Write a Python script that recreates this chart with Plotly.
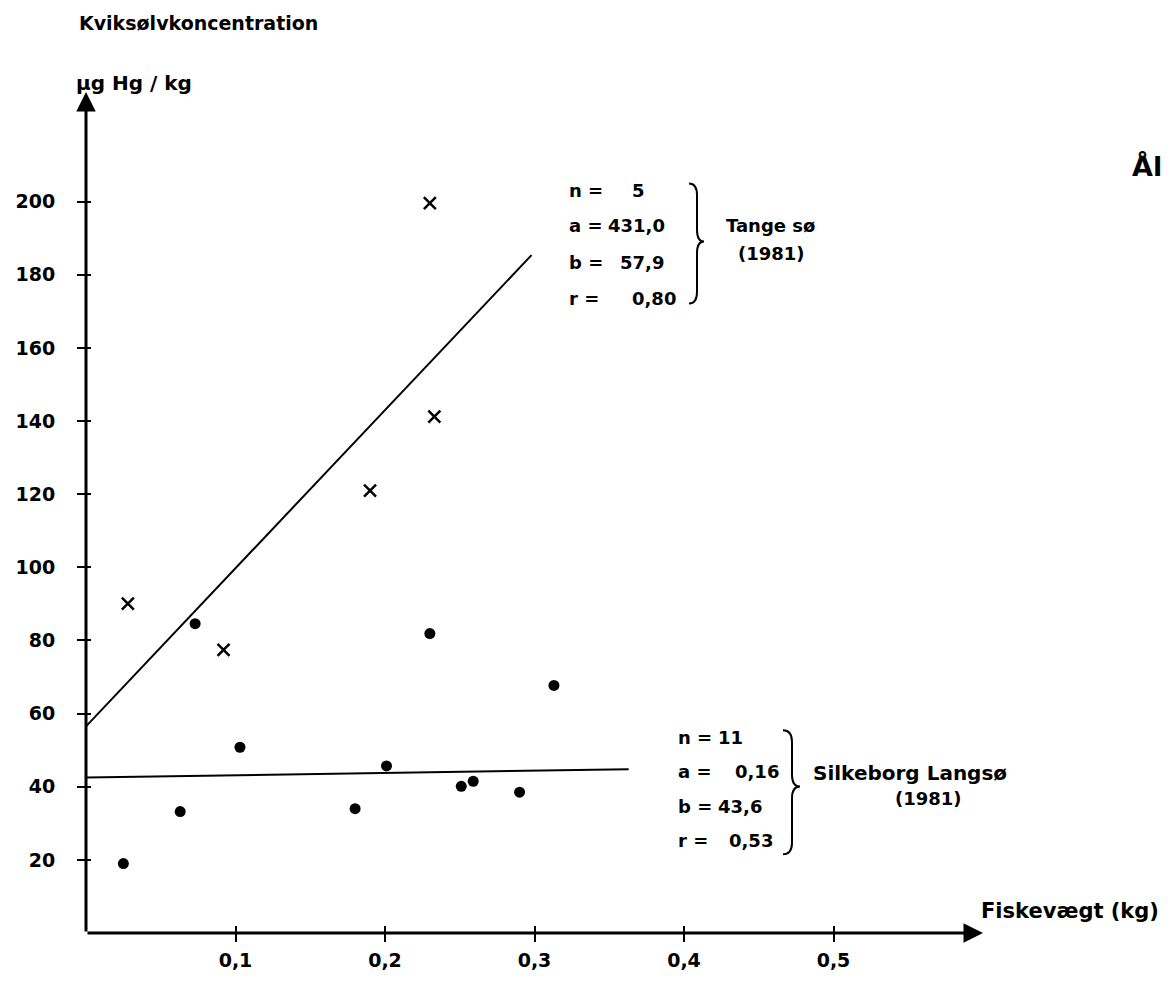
import plotly.graph_objects as go

# ---------------- data ----------------
# Silkeborg Langsø (1981): filled dots
silk_x = [0.025, 0.063, 0.073, 0.103, 0.180, 0.201, 0.230, 0.251, 0.259, 0.290, 0.313]
silk_y = [19.0, 33.2, 84.6, 50.8, 34.0, 45.7, 81.9, 40.1, 41.5, 38.5, 67.7]
# Tange sø (1981): crosses
tange_x = [0.028, 0.092, 0.190, 0.233, 0.230]
tange_y = [90.1, 77.4, 121.0, 141.2, 199.6]
# drawn regression lines (end points)
tange_fit_x = [0.0, 0.298]
tange_fit_y = [56.5, 185.4]
silk_fit_x = [0.0, 0.363]
silk_fit_y = [42.5, 44.8]

x_ticks = [0.1, 0.2, 0.3, 0.4, 0.5]
x_tick_labels = ["0,1", "0,2", "0,3", "0,4", "0,5"]
y_ticks = [20, 40, 60, 80, 100, 120, 140, 160, 180, 200]
y_tick_labels = [str(v) for v in y_ticks]

tange_stats = [("n =", "5"), ("a =", "431,0"), ("b =", "57,9"), ("r =", "0,80")]
silk_stats = [("n =", "11"), ("a =", "0,16"), ("b =", "43,6"), ("r =", "0,53")]

# ---------------- layout constants ----------------
W, H = 1170, 983
ML, MR, MT, MB = 86, 187, 92, 36
X_MAX, Y_MAX = 0.6, 230
PW, PH = W - ML - MR, H - MT - MB


def px2x(px):
    return (px - ML) / PW * X_MAX


def py2y(py):
    return (H - MB - py) / PH * Y_MAX


def px2paper(px):
    return (px - ML) / PW


def py2paper(py):
    return (H - MB - py) / PH


FONT = "DejaVu Sans"
BLACK = "#000000"

fig = go.Figure()

fig.add_trace(go.Scatter(x=tange_fit_x, y=tange_fit_y, mode="lines",
                         line=dict(color=BLACK, width=2), showlegend=False, hoverinfo="skip"))
fig.add_trace(go.Scatter(x=silk_fit_x, y=silk_fit_y, mode="lines",
                         line=dict(color=BLACK, width=2), showlegend=False, hoverinfo="skip"))
fig.add_trace(go.Scatter(x=silk_x, y=silk_y, mode="markers", name="Silkeborg Langsø",
                         marker=dict(symbol="circle", size=11, color=BLACK), showlegend=False))
fig.add_trace(go.Scatter(x=tange_x, y=tange_y, mode="markers", name="Tange sø",
                         marker=dict(symbol="x-thin", size=12, line=dict(color=BLACK, width=2.5)),
                         showlegend=False))
# invisible trace on overlay axes (used for crossing tick marks)
fig.add_trace(go.Scatter(x=[None], y=[None], xaxis="x2", yaxis="y2", showlegend=False))

tickfont = dict(family=FONT, size=19, color=BLACK, weight="bold")
fig.update_layout(
    width=W, height=H,
    margin=dict(l=ML, r=MR, t=MT, b=MB),
    paper_bgcolor="white", plot_bgcolor="white",
    xaxis=dict(range=[0, X_MAX], tickvals=x_ticks, ticktext=x_tick_labels, ticks="outside",
               ticklen=8, tickwidth=2, tickcolor=BLACK, showgrid=False, zeroline=False,
               showline=False, tickfont=tickfont, ticklabelstandoff=2),
    yaxis=dict(range=[0, Y_MAX], tickvals=y_ticks, ticktext=y_tick_labels, ticks="outside",
               ticklen=8, tickwidth=2, tickcolor=BLACK, showgrid=False, zeroline=False,
               showline=False, tickfont=tickfont, ticklabelstandoff=18),
    xaxis2=dict(overlaying="x", matches="x", anchor="y2", tickvals=x_ticks, ticks="inside",
                ticklen=7, tickwidth=2, tickcolor=BLACK, showticklabels=False,
                showgrid=False, zeroline=False, showline=False),
    yaxis2=dict(overlaying="y", matches="y", anchor="x2", side="left", tickvals=y_ticks,
                ticks="inside", ticklen=5, tickwidth=2, tickcolor=BLACK, showticklabels=False,
                showgrid=False, zeroline=False, showline=False),
)

annotations = []
# axis arrows
annotations.append(dict(x=X_MAX, y=0, ax=0, ay=0, xref="x", yref="y", axref="x", ayref="y",
                        text="", showarrow=True, arrowhead=2, arrowsize=1.3, arrowwidth=3,
                        arrowcolor=BLACK, standoff=0, startstandoff=0))
annotations.append(dict(x=0, y=Y_MAX, ax=0, ay=0, xref="x", yref="y", axref="x", ayref="y",
                        text="", showarrow=True, arrowhead=2, arrowsize=1.3, arrowwidth=3,
                        arrowcolor=BLACK, standoff=0, startstandoff=0))


def add_text(text, px, py, size=18, xanchor="left", yanchor="middle"):
    annotations.append(dict(x=px2paper(px), y=py2paper(py), xref="paper", yref="paper",
                            text=text, showarrow=False, xanchor=xanchor, yanchor=yanchor,
                            font=dict(family=FONT, size=size, color=BLACK, weight="bold")))


add_text("Kviksølvkoncentration", 77, 22, size=19)
add_text("µg Hg / kg", 74, 83, size=20)
add_text("Ål", 1130, 168, size=27)
add_text("Fiskevægt (kg)", 979, 925, size=21)

# Tange sø statistics
tange_rows_y = [192, 228, 265, 302]
tange_val_x = [630, 606, 618, 630]
for (lab, val), yy, vx in zip(tange_stats, tange_rows_y, tange_val_x):
    add_text(lab, 567, yy, size=18)
    add_text(val, vx, yy, size=18)
add_text("Tange sø", 724, 228, size=18)
add_text("(1981)", 736, 256, size=18)

# Silkeborg Langsø statistics
silk_rows_y = [748, 783, 818, 853]
silk_val_x = [716, 733, 716, 727]
for (lab, val), yy, vx in zip(silk_stats, silk_rows_y, silk_val_x):
    add_text(lab, 676, yy, size=18)
    add_text(val, vx, yy, size=18)
add_text("Silkeborg Langsø", 811, 784, size=20)
add_text("(1981)", 893, 810, size=18)

fig.update_layout(annotations=annotations)


def brace(px_left, px_stem, px_tip, py_top, py_mid, py_bot, r=12):
    """Path of a right-pointing curly brace, in data coordinates."""
    x0, xs, xt = px2x(px_left), px2x(px_stem), px2x(px_tip)
    yt, ym, yb = py2y(py_top), py2y(py_mid), py2y(py_bot)
    dy = (py2y(0) - py2y(r))
    return (f"M {x0},{yt} Q {xs},{yt} {xs},{yt - dy} "
            f"L {xs},{ym + dy} Q {xs},{ym} {xt},{ym} "
            f"Q {xs},{ym} {xs},{ym - dy} "
            f"L {xs},{yb + dy} Q {xs},{yb} {x0},{yb}")


fig.add_shape(type="path", path=brace(689, 697, 704, 185, 244, 307),
              xref="x", yref="y", line=dict(color=BLACK, width=2))
fig.add_shape(type="path", path=brace(783, 792, 800, 741, 798, 867),
              xref="x", yref="y", line=dict(color=BLACK, width=2))

fig.write_html("out.html", config={"displayModeBar": False},
               post_script="document.body.style.margin='0';")
